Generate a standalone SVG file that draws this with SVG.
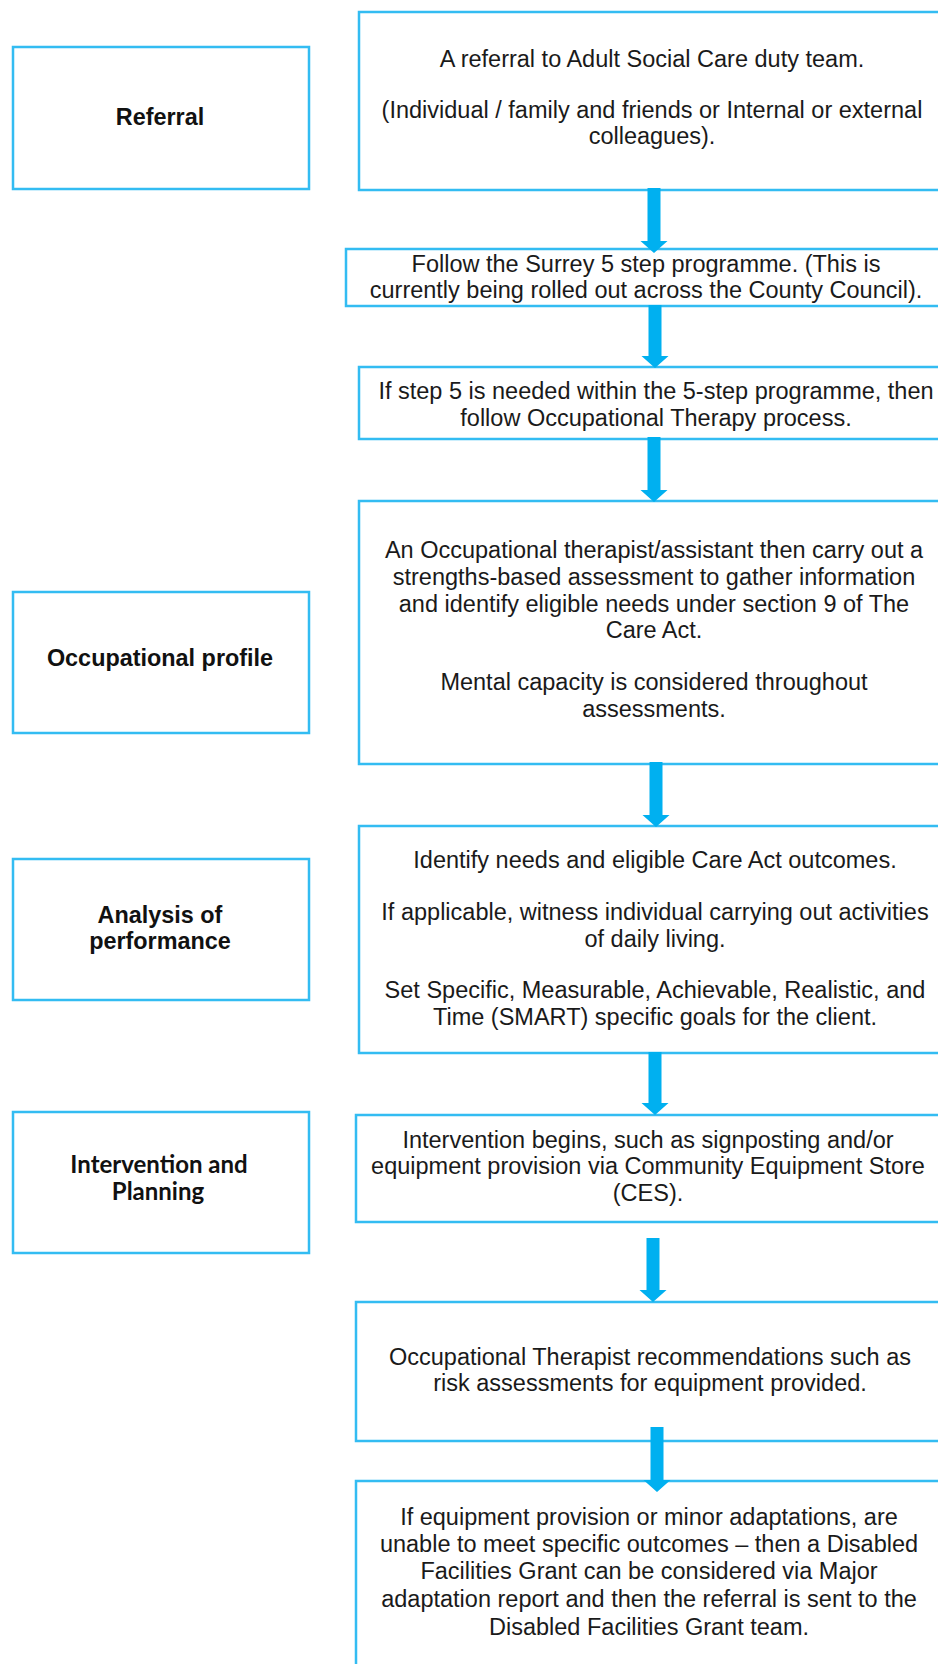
<svg xmlns="http://www.w3.org/2000/svg" width="938" height="1664" viewBox="0 0 938 1664">
<style>
.box{fill:#fff;stroke:#33BCF2;stroke-width:2.5}
.t{font-family:"Liberation Sans",Arial,sans-serif;font-size:23.5px;fill:#1a1a1a;text-anchor:middle}
.l{font-family:"Liberation Sans",Arial,sans-serif;font-size:23.4px;font-weight:bold;fill:#111;text-anchor:middle}
.lc{font-family:Lato,"Open Sans",sans-serif;font-size:24px;font-weight:bold;fill:#111;text-anchor:middle}
.arr{fill:#00B0F0}
</style>
<rect width="938" height="1664" fill="#fff"/>
<g id="label-referral"><rect class="box" x="13" y="47" width="296" height="142"/><text class="l" x="160" y="125">Referral</text></g>
<g id="label-occupational-profile"><rect class="box" x="13" y="592" width="296" height="141"/><text class="l" x="160" y="666">Occupational profile</text></g>
<g id="label-analysis"><rect class="box" x="13" y="859" width="296" height="141"/><text class="l" x="160" y="923">Analysis of</text><text class="l" x="160" y="949">performance</text></g>
<g id="label-intervention"><rect class="box" x="13" y="1112" width="296" height="141"/><text class="lc" x="159" y="1173">Intervention and</text><text class="lc" x="158" y="1200">Planning</text></g>

<g id="step-referral"><rect class="box" x="359" y="12" width="600" height="178"/>
<text class="t" x="652" y="67">A referral to Adult Social Care duty team.</text>
<text class="t" x="652" y="118">(Individual / family and friends or Internal or external</text>
<text class="t" x="652" y="144">colleagues).</text></g>
<g id="step-surrey"><rect class="box" x="346" y="249" width="612" height="57"/>
<text class="t" x="646" y="272">Follow the Surrey 5 step programme. (This is</text>
<text class="t" x="646" y="298">currently being rolled out across the County Council).</text></g>
<g id="step-ot-process"><rect class="box" x="359" y="367" width="600" height="72"/>
<text class="t" x="656" y="399">If step 5 is needed within the 5-step programme, then</text>
<text class="t" x="656" y="426">follow Occupational Therapy process.</text></g>
<g id="step-assessment"><rect class="box" x="359" y="501" width="600" height="263"/>
<text class="t" x="654" y="558">An Occupational therapist/assistant then carry out a</text>
<text class="t" x="654" y="585">strengths-based assessment to gather information</text>
<text class="t" x="654" y="612">and identify eligible needs under section 9 of The</text>
<text class="t" x="654" y="638">Care Act.</text>
<text class="t" x="654" y="690">Mental capacity is considered throughout</text>
<text class="t" x="654" y="717">assessments.</text></g>
<g id="step-analysis"><rect class="box" x="359" y="826" width="600" height="227"/>
<text class="t" x="655" y="868">Identify needs and eligible Care Act outcomes.</text>
<text class="t" x="655" y="920">If applicable, witness individual carrying out activities</text>
<text class="t" x="655" y="947">of daily living.</text>
<text class="t" x="655" y="998">Set Specific, Measurable, Achievable, Realistic, and</text>
<text class="t" x="655" y="1025">Time (SMART) specific goals for the client.</text></g>
<g id="step-intervention"><rect class="box" x="356" y="1115" width="600" height="107"/>
<text class="t" x="648" y="1148">Intervention begins, such as signposting and/or</text>
<text class="t" x="648" y="1174">equipment provision via Community Equipment Store</text>
<text class="t" x="648" y="1201">(CES).</text></g>
<g id="step-recommendations"><rect class="box" x="356" y="1302" width="600" height="139"/>
<text class="t" x="650" y="1365">Occupational Therapist recommendations such as</text>
<text class="t" x="650" y="1391">risk assessments for equipment provided.</text></g>
<g id="step-dfg"><rect class="box" x="356" y="1481" width="600" height="220"/>
<text class="t" x="649" y="1525">If equipment provision or minor adaptations, are</text>
<text class="t" x="649" y="1552">unable to meet specific outcomes – then a Disabled</text>
<text class="t" x="649" y="1579">Facilities Grant can be considered via Major</text>
<text class="t" x="649" y="1607">adaptation report and then the referral is sent to the</text>
<text class="t" x="649" y="1635">Disabled Facilities Grant team.</text></g>

<g id="connectors">
<polygon class="arr" points="647.5,188 660.5,188 660.5,241 667.5,241 654,253 640.5,241 647.5,241"/>
<polygon class="arr" points="648.5,305 661.5,305 661.5,356 668.5,356 655,368 641.5,356 648.5,356"/>
<polygon class="arr" points="647.5,437 660.5,437 660.5,490 667.5,490 654,502 640.5,490 647.5,490"/>
<polygon class="arr" points="649.5,762 662.5,762 662.5,815 669.5,815 656,827 642.5,815 649.5,815"/>
<polygon class="arr" points="648.5,1052 661.5,1052 661.5,1103 668.5,1103 655,1115 641.5,1103 648.5,1103"/>
<polygon class="arr" points="646.5,1238 659.5,1238 659.5,1290 666.5,1290 653,1302 639.5,1290 646.5,1290"/>
<polygon class="arr" points="650.5,1427 663.5,1427 663.5,1480 670.5,1480 657,1492 643.5,1480 650.5,1480"/>
</g>
</svg>
